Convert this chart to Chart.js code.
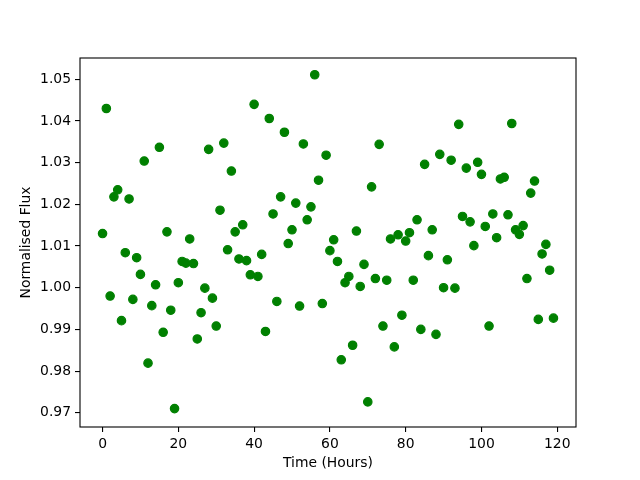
<!DOCTYPE html>
<html>
<head>
<meta charset="utf-8">
<script src="https://cdn.jsdelivr.net/npm/chart.js@4"></script>
<style>
html,body{margin:0;padding:0;background:#fff;}
#wrap{width:640px;height:480px;}
</style>
</head>
<body>
<div id="wrap"><canvas id="c" width="640" height="480"></canvas></div>
<script>
const hours = Array.from({length:120}, (_, i) => i);
const flux = [
1.0130,1.0430,0.9980,1.0218,1.0235,0.9921,1.0084,1.0213,0.9972,1.0072,
1.0032,1.0304,0.9819,0.9957,1.0007,1.0337,0.9893,1.0134,0.9946,0.9710,
1.0012,1.0063,1.0059,1.0117,1.0058,0.9877,0.9940,0.9999,1.0332,0.9975,
0.9908,1.0186,1.0347,1.0091,1.0280,1.0134,1.0069,1.0151,1.0065,1.0031,
1.0440,1.0027,1.0080,0.9895,1.0406,1.0177,0.9967,1.0218,1.0373,1.0106,
1.0139,1.0203,0.9956,1.0345,1.0163,1.0194,1.0511,1.0258,0.9962,1.0318,
1.0089,1.0115,1.0063,0.9827,1.0012,1.0027,0.9862,1.0136,1.0003,1.0056,
0.9726,1.0242,1.0022,1.0344,0.9908,1.0018,1.0117,0.9858,1.0127,0.9934,
1.0112,1.0132,1.0018,1.0163,0.9900,1.0296,1.0077,1.0139,0.9888,1.0320,
1.0000,1.0067,1.0306,0.9999,1.0392,1.0171,1.0287,1.0158,1.0101,1.0301,
1.0272,1.0147,0.9908,1.0177,1.0120,1.0261,1.0265,1.0175,1.0394,1.0139,
1.0128,1.0149,1.0022,1.0227,1.0256,0.9924,1.0081,1.0104,1.0042,0.9927
];
const xTicks = [0,20,40,60,80,100,120];
const yTicks = [0.97,0.98,0.99,1.00,1.01,1.02,1.03,1.04,1.05];
const xTitle = 'Time (Hours)';
const yTitle = 'Normalised Flux';

const xMin = -5.95, xMax = 124.95;
const yMin = 0.9706 - 0.00402, yMax = 1.0511 + 0.00402;

const frame = {
  id:'frame',
  afterDraw(chart){
    const a = chart.chartArea, ctx = chart.ctx;
    ctx.save();
    ctx.strokeStyle = '#000';
    ctx.lineWidth = 1.1;
    ctx.strokeRect(a.left, a.top, a.right - a.left, a.bottom - a.top);
    ctx.restore();
  }
};

const font = {family:'DejaVu Sans', size:13.9};

new Chart(document.getElementById('c'), {
  type:'scatter',
  data:{
    datasets:[{
      data: hours.map((h,i)=>({x:h, y:flux[i]})),
      backgroundColor:'#008000',
      borderColor:'#008000',
      borderWidth:1.2,
      pointRadius:4.2,
      pointHoverRadius:4.2
    }]
  },
  options:{
    responsive:false,
    animation:false,
    devicePixelRatio:1,
    layout:{padding:{left:0, top:58, right:64, bottom:0}},
    plugins:{legend:{display:false}, tooltip:{enabled:false}},
    scales:{
      x:{
        type:'linear', min:xMin, max:xMax,
        afterBuildTicks(s){ s.ticks = xTicks.map(v=>({value:v})); },
        afterFit(s){ s.height = 53; },
        grid:{display:true, drawOnChartArea:false, drawTicks:true, tickLength:5, color:'#000', lineWidth:1.1},
        border:{display:false},
        ticks:{color:'#000', font, padding:4, maxRotation:0, callback:v=>String(v)},
        title:{display:true, text:xTitle, color:'#000', font, padding:{top:0,bottom:8}}
      },
      y:{
        type:'linear', min:yMin, max:yMax,
        afterBuildTicks(s){ s.ticks = yTicks.map(v=>({value:v})); },
        afterFit(s){ s.width = 80; },
        grid:{display:true, drawOnChartArea:false, drawTicks:true, tickLength:5, color:'#000', lineWidth:1.1},
        border:{display:false},
        ticks:{color:'#000', font, padding:4, callback:v=>Number(v).toFixed(2)},
        title:{display:true, text:yTitle, color:'#000', font, padding:{top:18,bottom:0}}
      }
    }
  },
  plugins:[frame]
});
</script>
</body>
</html>
